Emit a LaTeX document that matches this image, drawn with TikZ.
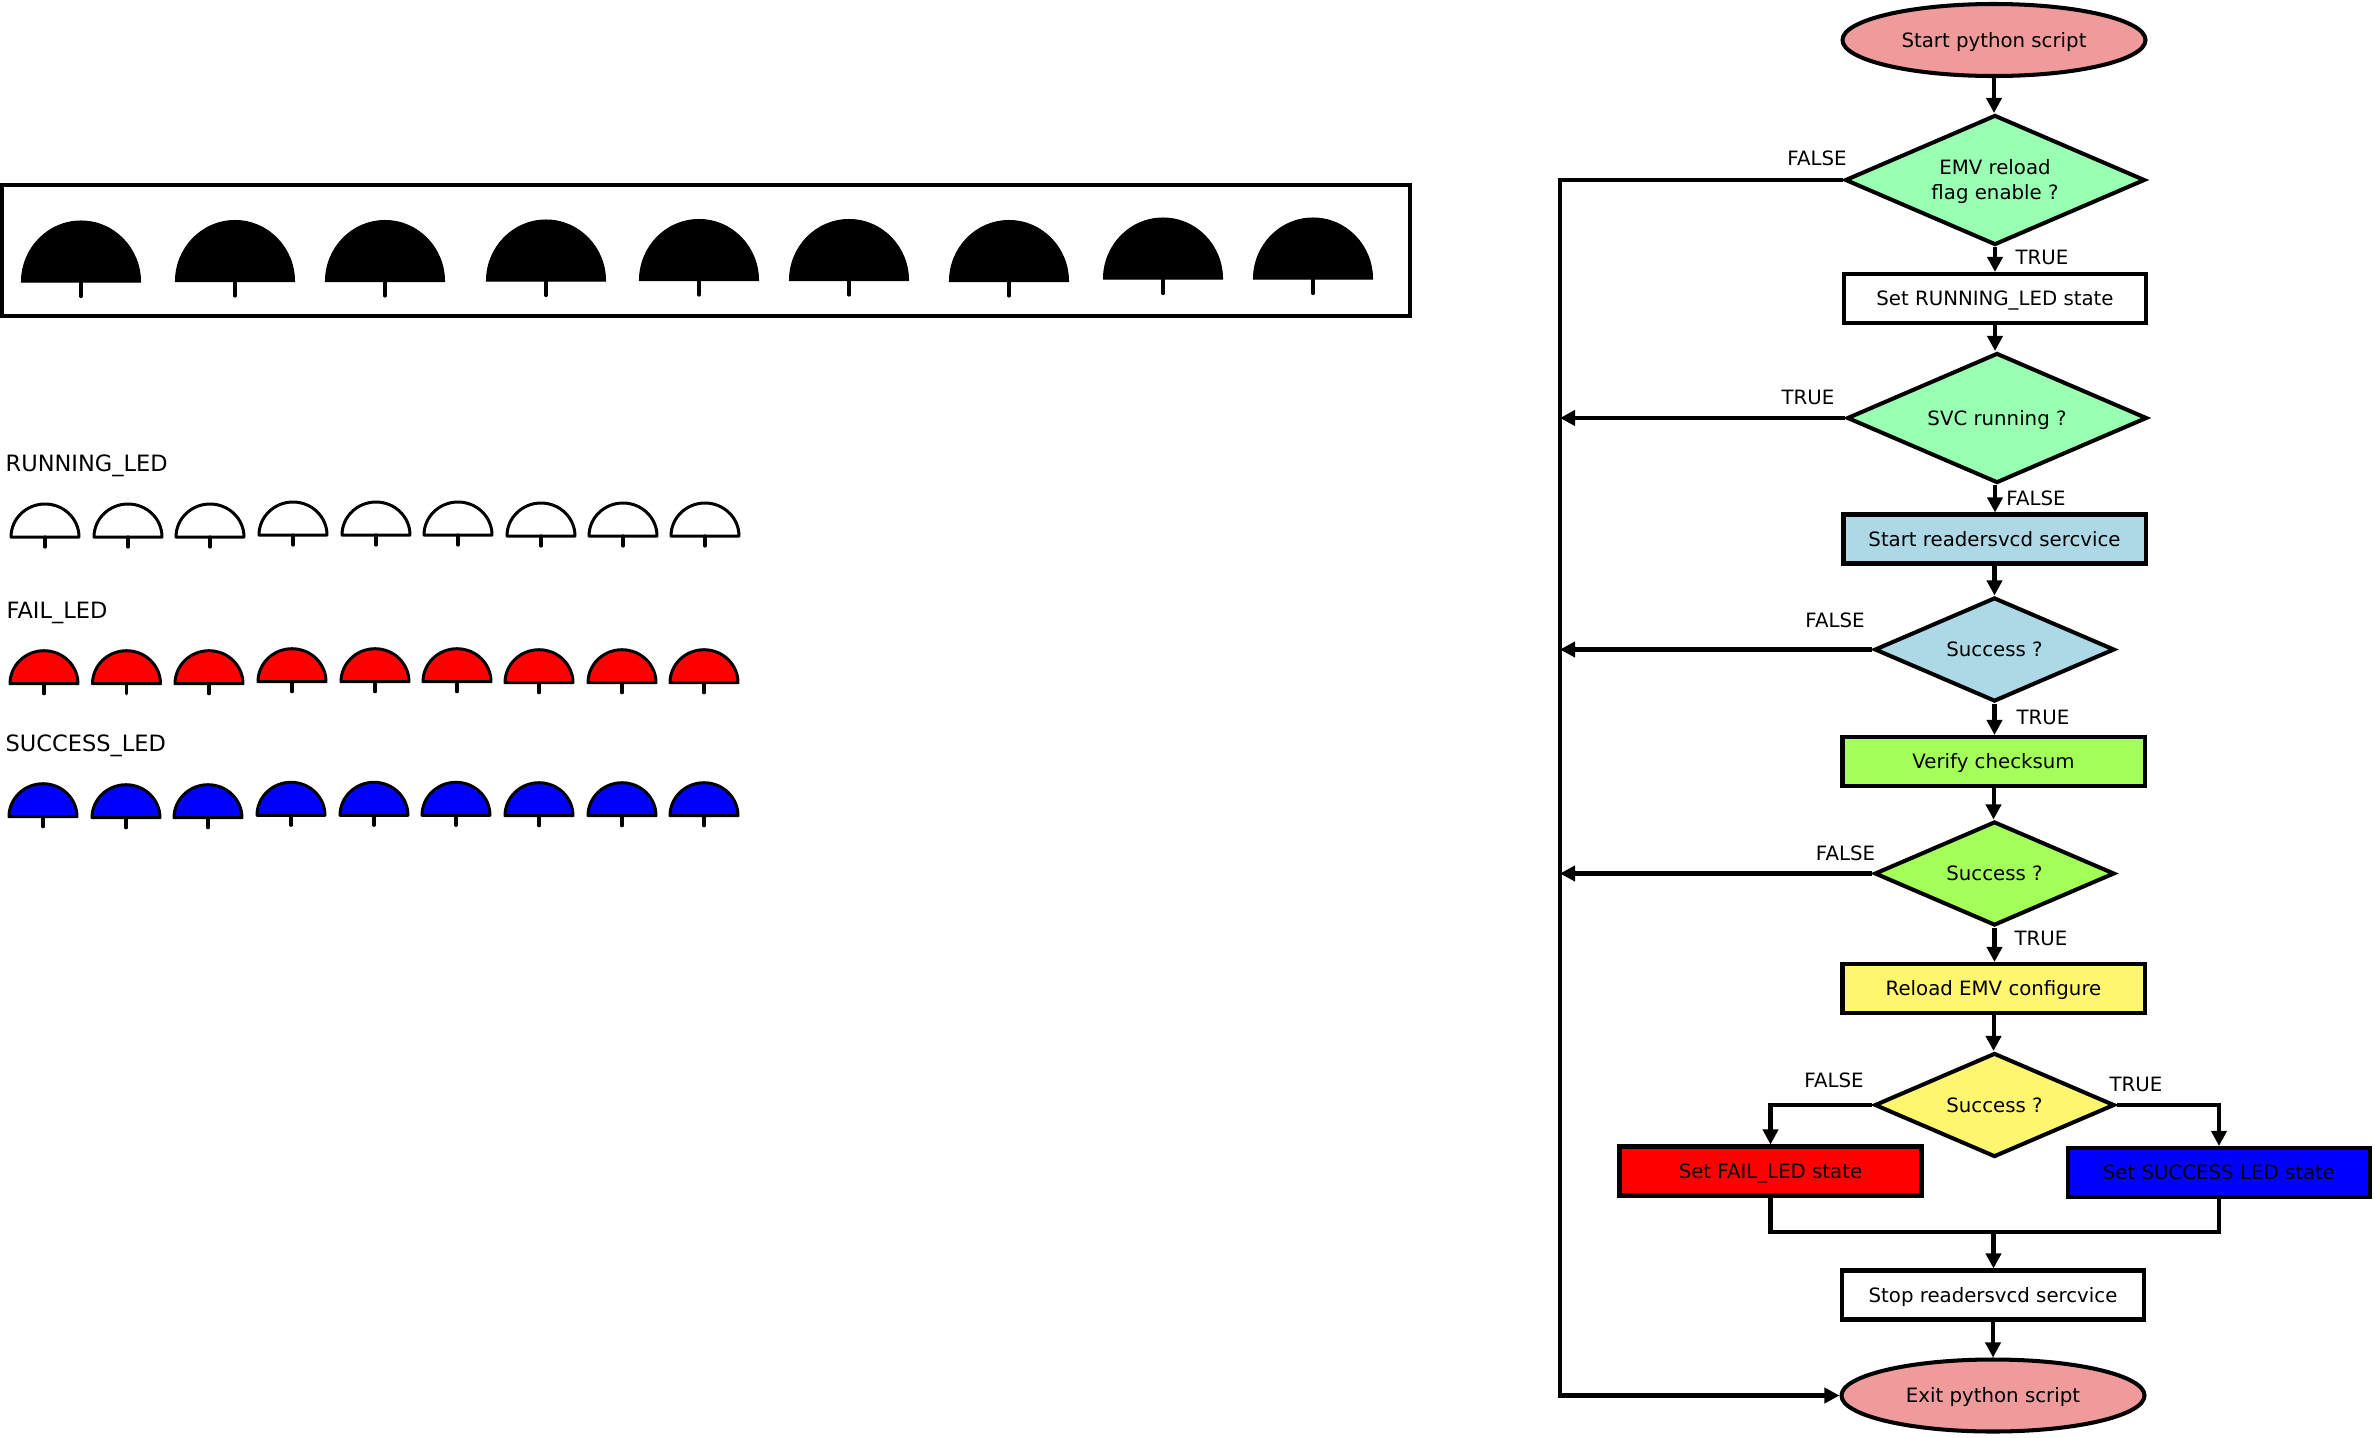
\documentclass[tikz,border=0pt]{standalone}
\usepackage{fontspec}
\setmainfont{DejaVu Sans}
\usetikzlibrary{arrows.meta,shapes.geometric}
\definecolor{rosepink}{HTML}{F09B9B}
\definecolor{mintgreen}{HTML}{99FFB2}
\definecolor{palelime}{HTML}{A4FF59}
\definecolor{softyellow}{HTML}{FFF670}
\definecolor{paleblue}{HTML}{ADD8E6}
\tikzset{
	base/.style = {draw, line width = 1.15pt, inner sep = 0pt, font = \fontsize{5.62pt}{7.1pt}\selectfont, align = center, text height = 5pt, text depth = .88pt},
	terminal/.style = {base, ellipse, fill = rosepink, minimum width = 3.03cm, minimum height = .72cm},
	process/.style = {base, rectangle, minimum width = 3.02cm, minimum height = .49cm},
	decision/.style = {base, diamond, aspect = 2.3, minimum width = 3.00cm, minimum height = 1.30cm},
	smalldecision/.style = {base, diamond, aspect = 2.3, minimum width = 2.40cm, minimum height = 1.04cm},
	flag/.style = {font = \fontsize{5.62pt}{7.1pt}\selectfont, inner sep = 0pt, text height = 5pt, text depth = .88pt},
	title/.style = {anchor = base west, inner sep = 0pt, font = \fontsize{6.4pt}{8pt}\selectfont},
	flow/.style = {line width = 1.15pt, -{Triangle[length = .15cm, width = .15cm]}},
	wire/.style = {line width = 1.15pt},
	bigled/.style = {fill = black, draw = black, line width = .3pt},
	smallled/.style = {draw = black, line width = .85pt, line join = round},
	stem/.style = {draw = black, line width = .9pt, line cap = round}
}
\newcommand{\bigledat}[2]{
	\path[bigled] (#1-.595,#2) arc[start angle = 180, end angle = 0, x radius = .595, y radius = .61] -- cycle;
	\path[stem] (#1,#2) -- ++(0,-.145);
}
\newcommand{\smallledat}[3]{
	\path[smallled, fill = #3] (#1-.34,#2) arc[start angle = 180, end angle = 0, x radius = .34, y radius = .33] -- cycle;
	\path[stem] (#1,#2) -- ++(0,-.10);
}
\begin{document}
\begin{tikzpicture}
	\useasboundingbox (0,0) rectangle (23.75,-14.37);

	% the flow, top to bottom
	\node (start) [terminal] at (19.94,-.40) {Start python script};
	\node (emv) [decision, fill = mintgreen, text height = 12.4pt, text depth = 1.5pt, node distance = 1.40cm] [below of = start, xshift = .01cm] {EMV reload\\flag enable ?};
	\node (running) [process, fill = white, node distance = 1.185cm] [below of = emv] {Set RUNNING\_LED state};
	\node (svc) [decision, fill = mintgreen, node distance = 1.195cm] [below of = running, xshift = .02cm] {SVC running ?};
	\node (readersvc) [process, fill = paleblue, node distance = 1.21cm] [below of = svc, xshift = -.025cm] {Start readersvcd sercvice};
	\node (okstart) [smalldecision, fill = paleblue, node distance = 1.105cm] [below of = readersvc] {Success ?};
	\node (verify) [process, fill = palelime, node distance = 1.12cm] [below of = okstart, xshift = -.01cm] {Verify checksum};
	\node (okverify) [smalldecision, fill = palelime, node distance = 1.12cm] [below of = verify, xshift = .01cm] {Success ?};
	\node (reload) [process, fill = softyellow, node distance = 1.15cm] [below of = okverify, xshift = -.01cm] {Reload EMV configure};
	\node (okreload) [smalldecision, fill = softyellow, node distance = 1.165cm] [below of = reload, xshift = .01cm] {Success ?};
	\node (setfail) [process, fill = red, node distance = .66cm] [below of = okreload, xshift = -2.24cm] {Set FAIL\_LED state};
	\node (setsuccess) [process, fill = blue, node distance = .675cm] [below of = okreload, xshift = 2.245cm] {Set SUCCESS LED state};
	\node (stop) [process, fill = white, node distance = 1.90cm] [below of = okreload, xshift = -.015cm] {Stop readersvcd sercvice};
	\node (exit) [terminal, node distance = 1.005cm] [below of = stop] {Exit python script};

	% labels on the branches
	\node (emvno) [flag] at (18.17,-1.58) {FALSE};
	\node (emvyes) [flag] at (20.42,-2.57) {TRUE};
	\node (svcyes) [flag] at (18.08,-3.97) {TRUE};
	\node (svcno) [flag] at (20.36,-4.98) {FALSE};
	\node (startno) [flag] at (18.35,-6.20) {FALSE};
	\node (startyes) [flag] at (20.43,-7.17) {TRUE};
	\node (verifyno) [flag] at (18.455,-8.53) {FALSE};
	\node (verifyyes) [flag] at (20.41,-9.38) {TRUE};
	\node (reloadno) [flag] at (18.34,-10.80) {FALSE};
	\node (reloadyes) [flag] at (21.36,-10.84) {TRUE};

	% connectors
	\coordinate (rail) at (15.60,0);
	\coordinate (joint) at (19.935,-12.32);
	\path (start) edge[flow] (start |- emv.north);
	\path (emv) edge[flow] (emv |- running.north);
	\path (running) edge[flow] (running |- svc.north);
	\path (svc.south -| running) edge[flow] (running |- readersvc.north);
	\path (readersvc) edge[flow] (readersvc |- okstart.north);
	\path (okstart) edge[flow] (okstart |- verify.north);
	\path (verify) edge[flow] (verify |- okverify.north);
	\path (okverify) edge[flow] (okverify |- reload.north);
	\path (reload) edge[flow] (reload |- okreload.north);
	\draw[flow] (okreload.west) -| (setfail.north);
	\draw[flow] (okreload.east) -| (setsuccess.north);
	\draw[wire] (setfail.south) |- (joint) -| (setsuccess.south);
	\draw[flow] (joint) -- (joint |- stop.north);
	\path (stop) edge[flow] (stop |- exit.north);
	\draw[flow] (emv.west) -- (emv.west -| rail) |- (exit.west);
	\draw[flow] (svc.west) -- (svc.west -| rail);
	\draw[flow] (okstart.west) -- (okstart.west -| rail);
	\draw[flow] (okverify.west) -- (okverify.west -| rail);

	% the panel and the led rows
	\node (panel) [draw, line width = 1.15pt, minimum width = 14.08cm, minimum height = 1.31cm, inner sep = 0pt] at (7.06,-2.505) {};
	\foreach \x/\y in {.81/-2.82, 2.35/-2.815, 3.85/-2.815, 5.46/-2.81, 6.99/-2.805, 8.49/-2.805, 10.09/-2.815, 11.63/-2.79, 13.13/-2.79} {
		\bigledat{\x}{\y}
	}

	\node (runninglabel) [title] at (.05,-4.71) {RUNNING\_LED};
	\foreach \x/\y in {.45/-5.37, 1.28/-5.37, 2.10/-5.37, 2.93/-5.35, 3.76/-5.35, 4.58/-5.35, 5.41/-5.36, 6.23/-5.36, 7.05/-5.36} {
		\smallledat{\x}{\y}{white}
	}

	\node (faillabel) [title] at (.06,-6.18) {FAIL\_LED};
	\foreach \x/\y in {.44/-6.837, 1.265/-6.837, 2.09/-6.837, 2.92/-6.817, 3.75/-6.817, 4.57/-6.817, 5.39/-6.827, 6.22/-6.827, 7.04/-6.827} {
		\smallledat{\x}{\y}{red}
	}

	\node (successlabel) [title] at (.05,-7.51) {SUCCESS\_LED};
	\foreach \x/\y in {.43/-8.167, 1.26/-8.177, 2.08/-8.177, 2.91/-8.153, 3.74/-8.153, 4.56/-8.153, 5.39/-8.157, 6.22/-8.157, 7.04/-8.157} {
		\smallledat{\x}{\y}{blue}
	}
\end{tikzpicture}
\end{document}
